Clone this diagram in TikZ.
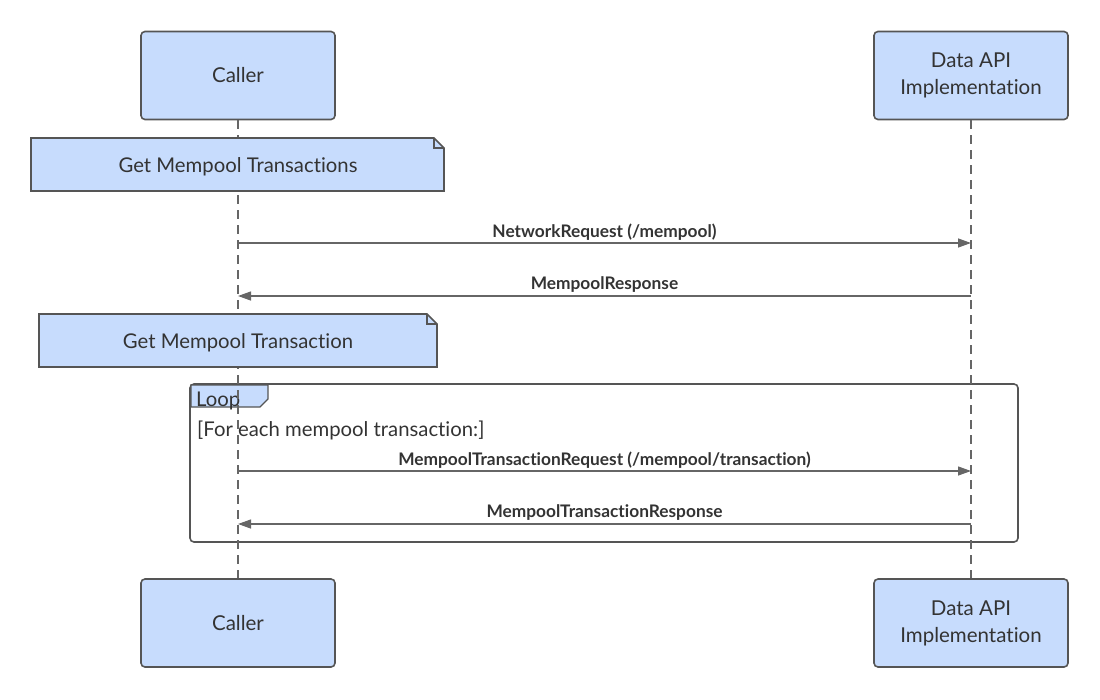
\documentclass[tikz,border=0pt]{standalone}
\usepackage{fontspec}
\setmainfont[Ligatures={NoCommon,NoRare,NoDiscretionary}]{Lato}
\usetikzlibrary{arrows.meta}
\definecolor{boxfill}{HTML}{C7DCFD}
\definecolor{boxline}{HTML}{555555}
\definecolor{txt}{HTML}{333333}
\definecolor{lline}{HTML}{666666}
\tikzset{
  actor/.style={draw=boxline, line width=1.6pt, fill=boxfill, rounded corners=4pt,
    minimum width=194pt, minimum height=88pt, align=center, text=txt,
    font=\fontsize{20.5pt}{27pt}\selectfont, inner sep=0pt},
  life/.style={draw=lline, line width=1.2pt, dash pattern=on 9pt off 6pt},
  msg/.style={draw=lline, line width=1.3pt, -{Triangle[length=13pt,width=9pt]}},
  mlabel/.style={font=\fontsize{17.3pt}{18pt}\selectfont\bfseries, text=txt, inner sep=0pt},
  notetext/.style={font=\fontsize{20.3pt}{22pt}\selectfont, text=txt, inner sep=0pt},
}
\begin{document}
\begin{tikzpicture}[x=1pt,y=-1pt]
\useasboundingbox (0,0) rectangle (1100,699);
% actors
\node[actor] (c1) at (238,75.5) {Caller};
\node[actor] (d1) at (971,75.5) {Data API\\Implementation};
\node[actor] (c2) at (238,623) {Caller};
\node[actor] (d2) at (971,623) {Data API\\Implementation};
% loop frame
\draw[boxline, line width=1.6pt, rounded corners=4pt] (190,384) rectangle (1018,542);
\filldraw[fill=boxfill, draw=boxline, line width=1.3pt] (191,385) -- (268,385) -- (268,399) -- (260,407) -- (191,407) -- cycle;
\node[notetext, anchor=west] (looplbl) at (196,400.5) {Loop};
\node[notetext, anchor=west] (cond) at (197,430) {[For each mempool transaction:]};
% lifelines
\draw[life] (c1.south) -- (c2.north);
\draw[life] (d1.south) -- (d2.north);
% notes
\filldraw[fill=boxfill, draw=boxline, line width=1.6pt] (31,138) -- (434,138) -- (444,148) -- (444,191) -- (31,191) -- cycle;
\draw[boxline, line width=1.2pt] (434,138) -- (434,148) -- (444,148);
\node[notetext] (n1) at (238,166.5) {Get Mempool Transactions};
\filldraw[fill=boxfill, draw=boxline, line width=1.6pt] (39,314) -- (427,314) -- (437,324) -- (437,367) -- (39,367) -- cycle;
\draw[boxline, line width=1.2pt] (427,314) -- (427,324) -- (437,324);
\node[notetext] (n2) at (238,342.5) {Get Mempool Transaction};
% messages
\coordinate (a1s) at (238,243); \coordinate (a1e) at (971,243);
\draw[msg] (a1s) -- (a1e);
\node[mlabel] (l1) at (604.5,232) {NetworkRequest (/mempool)};
\coordinate (a2s) at (971,296); \coordinate (a2e) at (238,296);
\draw[msg] (a2s) -- (a2e);
\node[mlabel] (l2) at (604.5,285) {MempoolResponse};
\coordinate (a3s) at (238,471); \coordinate (a3e) at (971,471);
\draw[msg] (a3s) -- (a3e);
\node[mlabel] (l3) at (604.5,460) {MempoolTransactionRequest (/mempool/transaction)};
\coordinate (a4s) at (971,524); \coordinate (a4e) at (238,524);
\draw[msg] (a4s) -- (a4e);
\node[mlabel] (l4) at (604.5,513) {MempoolTransactionResponse};
\end{tikzpicture}
\end{document}
